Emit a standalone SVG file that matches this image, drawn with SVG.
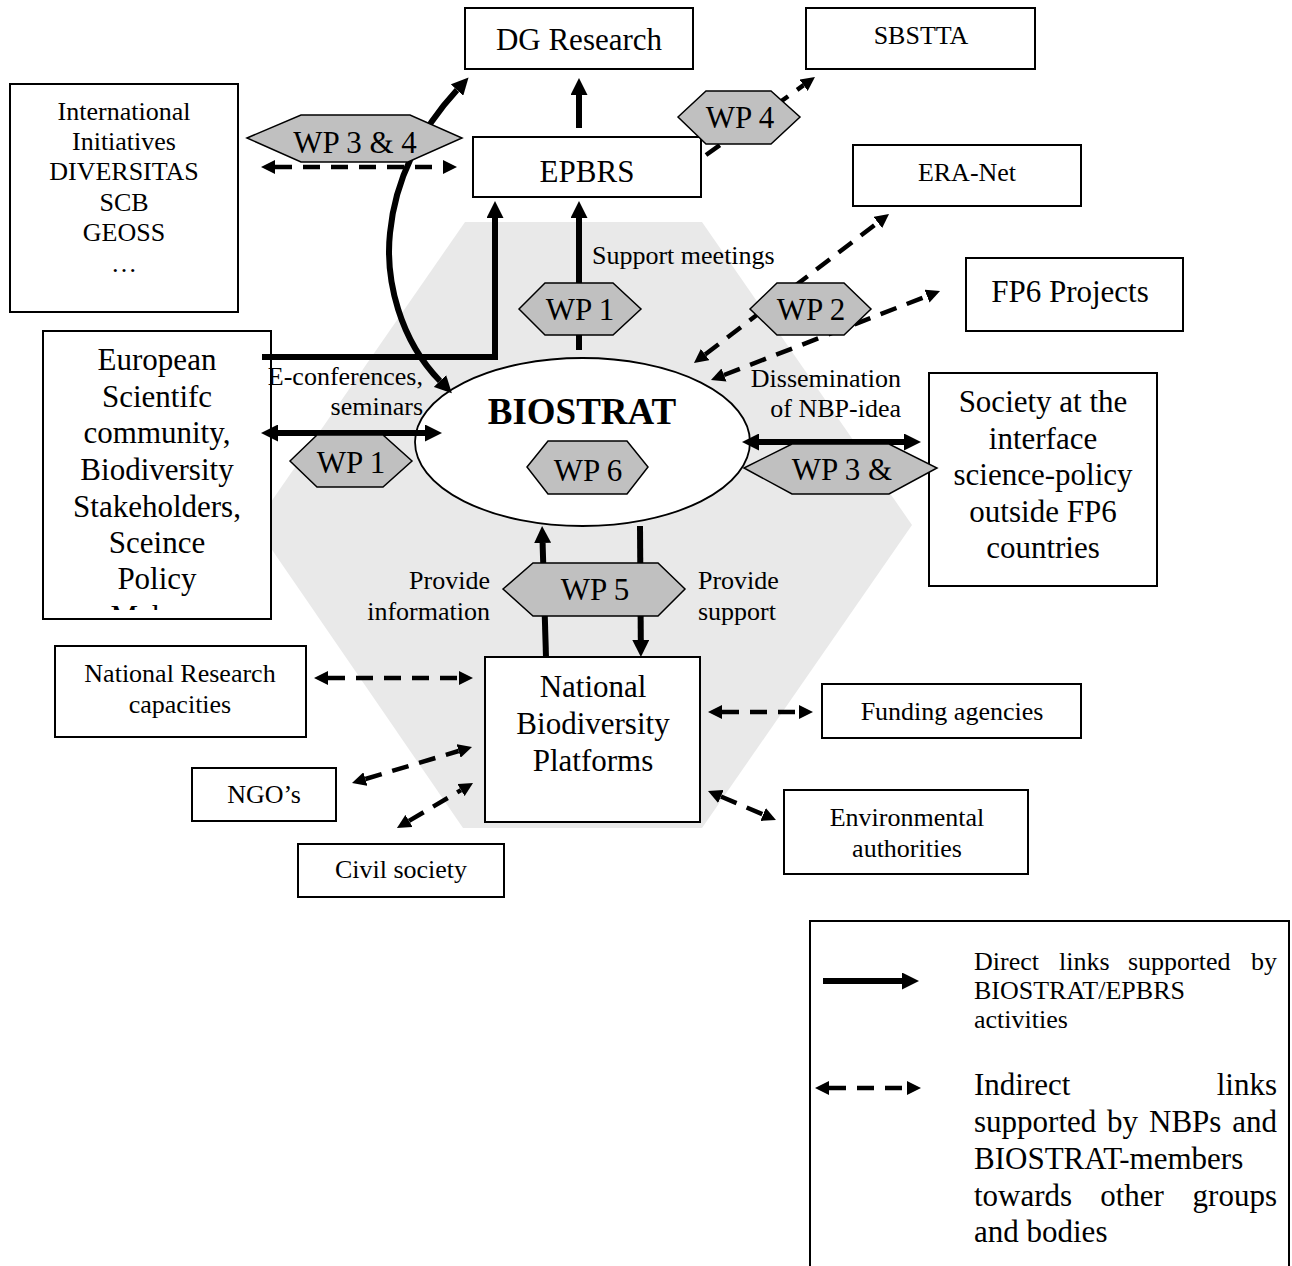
<svg xmlns="http://www.w3.org/2000/svg" width="1292" height="1266" viewBox="0 0 1292 1266">
<defs>
<style>
.box{fill:#fff;stroke:#000;stroke-width:2}
.wp{fill:#c0c0c0;stroke:#000;stroke-width:1.5}
.t{font-family:"Liberation Serif","Times New Roman",serif;fill:#000}
.big{font-size:31px}
.sm{font-size:26px}
.c{text-anchor:middle}
.e{text-anchor:end}
.solid{fill:none;stroke:#000;stroke-width:6}
.dash{fill:none;stroke:#000;stroke-width:4.5;stroke-dasharray:17 11}
</style>
<marker id="hs" markerUnits="userSpaceOnUse" viewBox="0 0 17 17" markerWidth="17" markerHeight="17" refX="0" refY="8.5" orient="auto-start-reverse"><path d="M0,0 L17,8.5 L0,17 z" fill="#000"/></marker>
<marker id="hd" markerUnits="userSpaceOnUse" viewBox="0 0 14 14" markerWidth="14" markerHeight="14" refX="0" refY="7" orient="auto-start-reverse"><path d="M0,0 L14,7 L0,14 z" fill="#000"/></marker>
<clipPath id="clipEu"><rect x="43" y="331" width="228" height="279"/></clipPath>
</defs>
<rect x="0" y="0" width="1292" height="1266" fill="#fff"/>
<polygon id="background-hexagon" points="465,222 702,222 912,525 702,828 463,828 255,525" fill="#e9e9e9"/>

<g id="dg-research"><rect class="box" x="465" y="8" width="228" height="61"/><text class="t big c" x="579" y="50">DG Research</text></g>
<g id="sbstta"><rect class="box" x="806" y="8" width="229" height="61"/><text class="t sm c" x="921" y="44">SBSTTA</text></g>
<g id="international"><rect class="box" x="10" y="84" width="228" height="228"/>
<text class="t sm c" x="124" y="120">International</text>
<text class="t sm c" x="124" y="150">Initiatives</text>
<text class="t sm c" x="124" y="180">DIVERSITAS</text>
<text class="t sm c" x="124" y="211">SCB</text>
<text class="t sm c" x="124" y="241">GEOSS</text>
<text class="t sm c" x="124" y="272">…</text></g>
<g id="epbrs"><rect class="box" x="473" y="137" width="228" height="60"/><text class="t big c" x="587" y="182">EPBRS</text></g>
<g id="era-net"><rect class="box" x="853" y="145" width="228" height="61"/><text class="t sm c" x="967" y="181">ERA-Net</text></g>
<g id="fp6"><rect class="box" x="966" y="258" width="217" height="73"/><text class="t big c" x="1070" y="302">FP6 Projects</text></g>
<g id="european"><rect class="box" x="43" y="331" width="228" height="288"/>
<g clip-path="url(#clipEu)">
<text class="t big c" x="157" y="370">European</text>
<text class="t big c" x="157" y="407">Scientifc</text>
<text class="t big c" x="157" y="443">community,</text>
<text class="t big c" x="157" y="480">Biodiversity</text>
<text class="t big c" x="157" y="517">Stakeholders,</text>
<text class="t big c" x="157" y="553">Sceince</text>
<text class="t big c" x="157" y="589">Policy</text>
<text class="t big c" x="157" y="627">Makers</text>
</g></g>
<g id="society"><rect class="box" x="929" y="373" width="228" height="213"/>
<text class="t big c" x="1043" y="412">Society at the</text>
<text class="t big c" x="1043" y="449">interface</text>
<text class="t big c" x="1043" y="485">science-policy</text>
<text class="t big c" x="1043" y="522">outside FP6</text>
<text class="t big c" x="1043" y="558">countries</text></g>
<g id="biostrat"><ellipse cx="582.5" cy="442" rx="167.5" ry="84" fill="#fff" stroke="#000" stroke-width="1.8"/><text class="t c" x="582" y="424" font-size="37" font-weight="bold">BIOSTRAT</text></g>
<g id="nbp"><rect class="box" x="485" y="657" width="215" height="165"/>
<text class="t big c" x="593" y="697">National</text>
<text class="t big c" x="593" y="734">Biodiversity</text>
<text class="t big c" x="593" y="771">Platforms</text></g>
<g id="national-research"><rect class="box" x="55" y="646" width="251" height="91"/>
<text class="t sm c" x="180" y="682">National Research</text>
<text class="t sm c" x="180" y="713">capacities</text></g>
<g id="ngos"><rect class="box" x="192" y="768" width="144" height="53"/><text class="t sm c" x="264" y="803">NGO’s</text></g>
<g id="civil-society"><rect class="box" x="298" y="844" width="206" height="53"/><text class="t sm c" x="401" y="878">Civil society</text></g>
<g id="funding"><rect class="box" x="822" y="684" width="259" height="54"/><text class="t sm c" x="952" y="720">Funding agencies</text></g>
<g id="environmental"><rect class="box" x="784" y="790" width="244" height="84"/>
<text class="t sm c" x="907" y="826">Environmental</text>
<text class="t sm c" x="907" y="857">authorities</text></g>

<g id="connectors">
<path class="solid" d="M579,128 V95" marker-end="url(#hs)"/>
<path class="solid" d="M579,350 V218" marker-end="url(#hs)"/>
<path class="solid" d="M262,357 H495 V218" marker-end="url(#hs)"/>
<path class="solid" d="M440,381 C400,340 385,280 390,233 C395,180 420,130 457,90" marker-start="url(#hs)" marker-end="url(#hs)"/>
<path class="solid" d="M278,433 H425" marker-start="url(#hs)" marker-end="url(#hs)"/>
<path class="solid" d="M759,442 H904" marker-start="url(#hs)" marker-end="url(#hs)"/>
<path class="solid" d="M546,657 L542.6,543" marker-end="url(#hs)"/>
<path class="solid" d="M640,526 L640.8,640" marker-end="url(#hs)"/>
<path class="dash" d="M275,167 H443" marker-start="url(#hd)" marker-end="url(#hd)"/>
<path class="dash" d="M706,155 L803.6,85.2" marker-end="url(#hd)"/>
<path class="dash" d="M705.1,354.5 L877.9,222.5" marker-start="url(#hd)" marker-end="url(#hd)"/>
<path class="dash" d="M724,375 L927,296.1" marker-start="url(#hd)" marker-end="url(#hd)"/>
<path class="dash" d="M328,678 H459" marker-start="url(#hd)" marker-end="url(#hd)"/>
<path class="dash" d="M365.4,779 L458.6,751" marker-start="url(#hd)" marker-end="url(#hd)"/>
<path class="dash" d="M409,820.9 L461,790.1" marker-start="url(#hd)" marker-end="url(#hd)"/>
<path class="dash" d="M722,712 H799" marker-start="url(#hd)" marker-end="url(#hd)"/>
<path class="dash" d="M720.9,796.5 L763.1,814.5" marker-start="url(#hd)" marker-end="url(#hd)"/>
</g>

<g id="wp34"><polygon class="wp" points="247,138 301,115 410,115 462,138 408,162 301,162"/><text class="t big c" x="355" y="153">WP 3 &amp; 4</text></g>
<g id="wp4"><polygon class="wp" points="678,117 706,91 771,91 800,117 771,144 706,144"/><text class="t big c" x="740" y="128">WP 4</text></g>
<g id="wp1-top"><polygon class="wp" points="519,309 545,283 613,283 641,309 613,335 545,335"/><text class="t big c" x="580" y="320">WP 1</text></g>
<g id="wp2"><polygon class="wp" points="750,309 777,283 844,283 871,309 844,335 777,335"/><text class="t big c" x="811" y="320">WP 2</text></g>
<g id="wp1-left"><polygon class="wp" points="290,461 317,435 383,435 412,461 383,487 317,487"/><text class="t big c" x="351" y="473">WP 1</text></g>
<g id="wp6"><polygon class="wp" points="527,467 548,441 627,441 648,467 627,494 548,494"/><text class="t big c" x="588" y="481">WP 6</text></g>
<g id="wp3-right"><polygon class="wp" points="744,468 792,444 889,444 937,468 889,494 792,494"/><text class="t big c" x="842" y="480">WP 3 &amp;</text></g>
<g id="wp5"><polygon class="wp" points="503,589 533,563 658,563 685,589 658,616 533,616"/><text class="t big c" x="595" y="600">WP 5</text></g>

<g id="labels">
<text class="t sm" x="592" y="264">Support meetings</text>
<text class="t sm e" x="423" y="385">E-conferences,</text>
<text class="t sm e" x="423" y="415">seminars</text>
<text class="t sm e" x="901" y="387">Dissemination</text>
<text class="t sm e" x="901" y="417">of NBP-idea</text>
<text class="t sm e" x="490" y="589">Provide</text>
<text class="t sm e" x="490" y="620">information</text>
<text class="t sm" x="698" y="589">Provide</text>
<text class="t sm" x="698" y="620">support</text>
</g>

<g id="legend">
<rect class="box" x="810" y="921" width="479" height="360"/>
<path class="solid" d="M823,981 H902" marker-end="url(#hs)"/>
<path class="dash" d="M829,1088 H907" marker-start="url(#hd)" marker-end="url(#hd)"/>
<text class="t sm" x="974" y="970">Direct</text>
<text class="t sm" x="1059" y="970">links</text>
<text class="t sm" x="1128" y="970">supported</text>
<text class="t sm e" x="1277" y="970">by</text>
<text class="t sm" x="974" y="999">BIOSTRAT/EPBRS</text>
<text class="t sm" x="974" y="1028">activities</text>
<text class="t big" x="974" y="1095">Indirect</text>
<text class="t big e" x="1277" y="1095">links</text>
<text class="t big" x="974" y="1132">supported</text>
<text class="t big" x="1107" y="1132">by</text>
<text class="t big" x="1149" y="1132">NBPs</text>
<text class="t big e" x="1277" y="1132">and</text>
<text class="t big" x="974" y="1169">BIOSTRAT-members</text>
<text class="t big" x="974" y="1206">towards</text>
<text class="t big c" x="1132" y="1206">other</text>
<text class="t big e" x="1277" y="1206">groups</text>
<text class="t big" x="974" y="1242">and bodies</text>
</g>
</svg>
